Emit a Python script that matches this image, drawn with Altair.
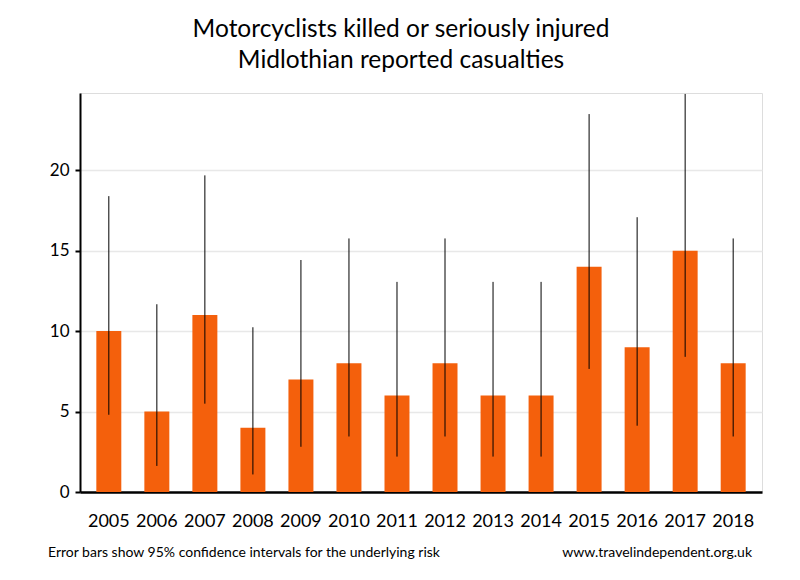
import altair as alt
import pandas as pd

years = ["2005", "2006", "2007", "2008", "2009", "2010", "2011", "2012",
         "2013", "2014", "2015", "2016", "2017", "2018"]
casualties = [10, 5, 11, 4, 7, 8, 6, 8, 6, 6, 14, 9, 15, 8]
ci_low = [4.80, 1.62, 5.49, 1.09, 2.81, 3.45, 2.20, 3.45, 2.20, 2.20, 7.65, 4.12, 8.40, 3.45]
ci_high = [18.39, 11.67, 19.68, 10.24, 14.42, 15.76, 13.06, 15.76, 13.06, 13.06, 23.49, 17.08, 24.74, 15.76]

title_lines = ["Motorcyclists killed or seriously injured", "Midlothian reported casualties"]
footer_left = "Error bars show 95% confidence intervals for the underlying risk"
footer_right = "www.travelindependent.org.uk"

FONT = "Lato"

df = pd.DataFrame({"year": years, "value": casualties, "lo": ci_low, "hi": ci_high})

x = alt.X("year:N", sort=years, title=None,
          scale=alt.Scale(paddingInner=0.48, paddingOuter=0.34),
          axis=alt.Axis(labelAngle=0, ticks=False, domainColor="black", domainWidth=2.5,
                        labelFontSize=18, labelColor="black", labelPadding=20,
                        labelFont=FONT, grid=False))
y = alt.Y("value:Q", title=None,
          scale=alt.Scale(domain=[0, 24.8], nice=False),
          axis=alt.Axis(values=[0, 5, 10, 15, 20], domainColor="black", domainWidth=2,
                        tickColor="black", tickWidth=2, tickSize=5,
                        labelFontSize=17, labelColor="black", labelPadding=6,
                        labelFont=FONT, gridColor="#e8e8e8", gridWidth=1.5))

bars = alt.Chart(df).mark_bar(color="#F4600C").encode(x=x, y=y)
err = alt.Chart(df).mark_rule(color="black", strokeWidth=1).encode(
    x=alt.X("year:N", sort=years), y="lo:Q", y2="hi:Q")

fl = alt.Chart(pd.DataFrame({"t": [footer_left]})).mark_text(
    align="left", baseline="middle", fontSize=14, font=FONT, color="black"
).encode(text="t:N", x=alt.value(-32), y=alt.value(460))
fr = alt.Chart(pd.DataFrame({"t": [footer_right]})).mark_text(
    align="right", baseline="middle", fontSize=14, font=FONT, color="black"
).encode(text="t:N", x=alt.value(672), y=alt.value(460))

chart = alt.layer(bars, err, fl, fr).properties(
    width=682, height=399,
    title=alt.TitleParams(title_lines, fontSize=24.5, font=FONT, fontWeight="normal",
                          color="black", anchor="middle", dx=-20, offset=20,
                          lineHeight=31),
    autosize=alt.AutoSizeParams(type="none"),
    padding={"left": 72, "top": 85, "right": 30, "bottom": 72},
).configure_view(stroke=None).configure(background="white")

chart.save("out.html", embed_options={"renderer": "svg", "actions": False})
